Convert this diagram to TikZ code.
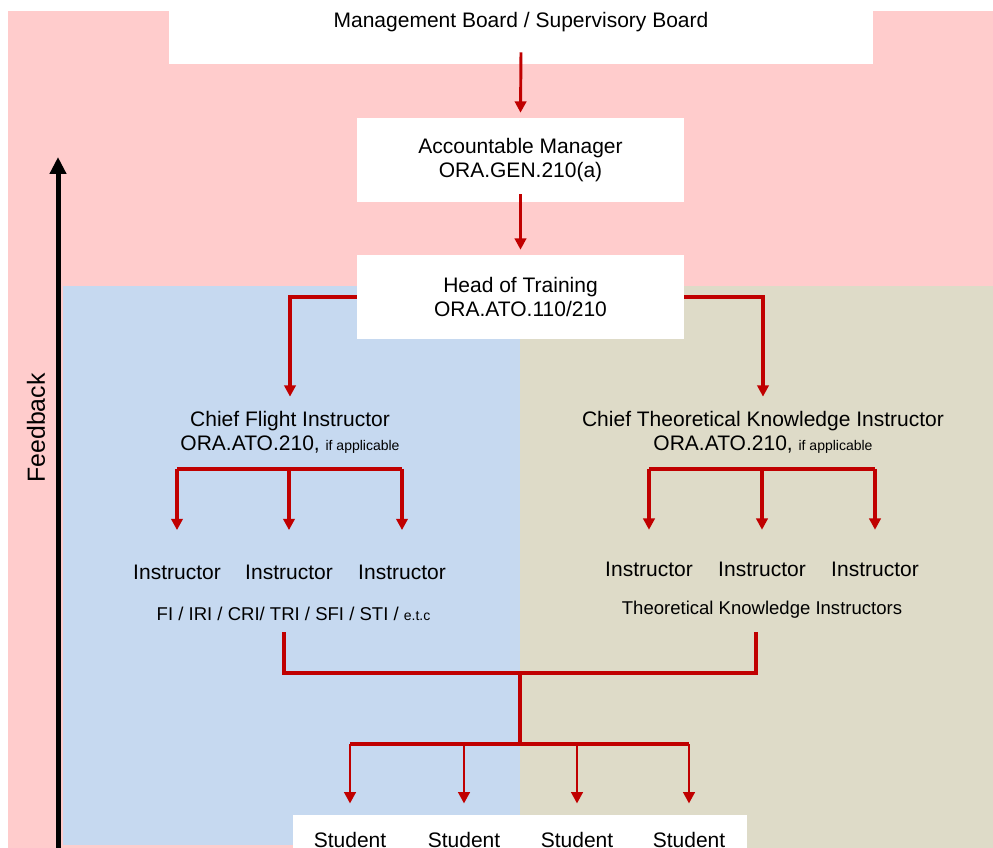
\documentclass[tikz,border=0pt]{standalone}
\usepackage{fontspec}
\setmainfont{Liberation Sans}
\usetikzlibrary{arrows.meta}
\definecolor{boardpink}{RGB}{255,204,204}
\definecolor{flightblue}{RGB}{198,217,240}
\definecolor{theorybeige}{RGB}{222,219,200}
\definecolor{linkred}{RGB}{192,0,0}
\newcommand{\mainsz}{\fontsize{15.75}{18}\selectfont}
\newcommand{\midsz}{\fontsize{13.9}{16}\selectfont}
\newcommand{\smallsz}{\fontsize{10.5}{12}\selectfont}
\newcommand{\bigsz}{\fontsize{18.6}{22}\selectfont}
\begin{document}
\begin{tikzpicture}[x=0.75pt,y=-0.75pt,
  wbox/.style={fill=white,draw=none,align=center,font=\mainsz},
  txt/.style={inner sep=0pt,align=center,font=\mainsz},
  rline/.style={draw=linkred,line width=2.3pt},
  arr/.style={rline,-{Triangle[width=8.5pt,length=8.5pt]}},
  thinarr/.style={arr,line width=2.2pt}]
\useasboundingbox (0,0) rectangle (993,848);
% background bands
\fill[boardpink] (8,11) rectangle (993,848);
\fill[flightblue] (63,286) rectangle (520,845);
\fill[theorybeige] (520,286) rectangle (993,848);
% boxes
\node[wbox,minimum width=528pt,minimum height=48pt] (board) at (521,32) {};
\node[txt] (boardtxt) at (521,22) {Management Board / Supervisory Board};
\node[wbox,minimum width=245pt,minimum height=63pt] (acc) at (520.5,160)
  {Accountable Manager\\ORA.GEN.210(a)};
\node[wbox,minimum width=245pt,minimum height=63pt] (hot) at (520.5,297)
  {Head of Training\\ORA.ATO.110/210};
\node[txt] (cfi) at (290,432) {Chief Flight Instructor\\ORA.ATO.210, {\smallsz if applicable}};
\node[txt] (ctki) at (763,432) {Chief Theoretical Knowledge Instructor\\ORA.ATO.210, {\smallsz if applicable}};
\node[txt,anchor=base] (fi1) at (177,579.5) {Instructor};
\node[txt,anchor=base] (fi2) at (289,579.5) {Instructor};
\node[txt,anchor=base] (fi3) at (402,579.5) {Instructor};
\node[txt,anchor=base] (ti1) at (649,576.5) {Instructor};
\node[txt,anchor=base] (ti2) at (762,576.5) {Instructor};
\node[txt,anchor=base] (ti3) at (875,576.5) {Instructor};
\node[txt,anchor=base,font=\midsz] (fitxt) at (293.5,620)
  {FI / IRI / CRI/ TRI / SFI / STI / {\smallsz e.t.c}};
\node[txt,anchor=base,font=\midsz] (tktxt) at (762,614.5) {Theoretical Knowledge Instructors};
\node[wbox,minimum width=340pt,minimum height=30pt] (stubox) at (520,835) {};
\node[txt,anchor=base] (st1) at (350,847) {Student};
\node[txt,anchor=base] (st2) at (464,847) {Student};
\node[txt,anchor=base] (st3) at (577,847) {Student};
\node[txt,anchor=base] (st4) at (689,847) {Student};
% feedback
\coordinate (fbbot) at (58,850);
\coordinate (fbtop) at (58,157);
\draw[line width=3.75pt,-{Triangle[width=12pt,length=12.75pt]}] (fbbot) -- (fbtop);
\node[font=\bigsz,rotate=90] (fbtxt) at (36,428) {Feedback};
% chain of command
\draw[thinarr] ([yshift=9pt]board.south) -- ([yshift=3.75pt]acc.north);
\draw[thinarr] ([yshift=6pt]acc.south) -- ([yshift=3.75pt]hot.north);
\draw[arr] (hot.west) -| ([yshift=10.5pt]cfi.north);
\draw[arr] (hot.east) -| ([yshift=10.5pt]ctki.north);
% instructors
\coordinate (fbar) at (289,469);
\coordinate (tbar) at (762,469);
\draw[rline] (fi1.north |- fbar) -- (fi3.north |- fbar);
\draw[rline] (ti1.north |- tbar) -- (ti3.north |- tbar);
\foreach \n in {fi1,fi2,fi3}
  \draw[arr] (\n.north |- fbar) -- ([yshift=26pt]\n.north);
\foreach \n in {ti1,ti2,ti3}
  \draw[arr] (\n.north |- tbar) -- ([yshift=24pt]\n.north);
% students
\coordinate (jl) at (284,632);
\coordinate (jr) at (756,632);
\coordinate (jm) at (520,673);
\coordinate (sbar) at (520,744);
\draw[rline] (jl) |- (jm) -| (jr);
\draw[rline] (jm) -- (sbar);
\draw[rline] (st1.north |- sbar) -- (st4.north |- sbar);
\foreach \n in {st1,st2,st3,st4}
  \draw[thinarr] (\n.north |- sbar) -- ([yshift=21pt]\n.north);
\end{tikzpicture}
\end{document}
